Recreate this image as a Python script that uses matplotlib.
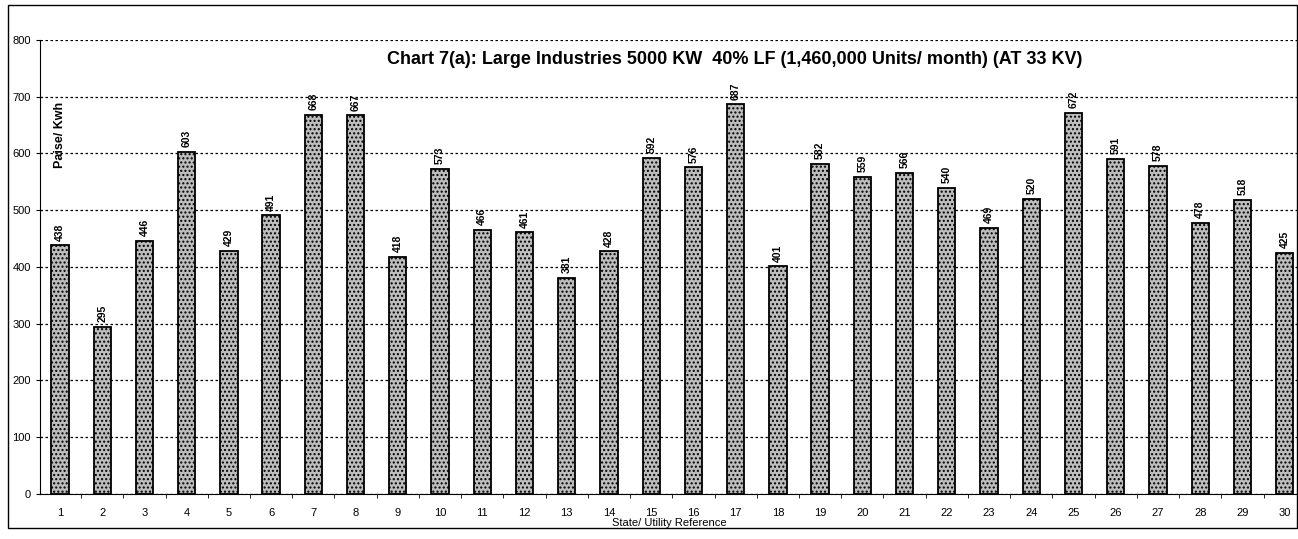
import numpy as np
import matplotlib
matplotlib.use("Agg")
from matplotlib import pyplot as plt
from matplotlib.patches import Rectangle

plt.rcParams["font.family"] = ["Liberation Sans", "DejaVu Sans"]
plt.rcParams["hatch.color"] = "#8a8a8a"

refs = list(range(1, 31))
values = [438, 295, 446, 603, 429, 491, 668, 667, 418, 573,
          466, 461, 381, 428, 592, 576, 687, 401, 582, 559,
          566, 540, 469, 520, 672, 591, 578, 478, 518, 425]
labels = [str(v) for v in values]
yticks = list(range(0, 801, 100))

fig = plt.figure(figsize=(12.98, 5.39), dpi=100)
ax = fig.add_axes([0.0308, 0.0835, 0.969, 0.8423])

ax.bar(refs, values, width=0.41, color="#bdbdbd", edgecolor="black",
       linewidth=1.3, hatch="....", zorder=3)

for x, v, t in zip(refs, values, labels):
    ax.text(x, v + 8, t, rotation=90, ha="center", va="bottom",
            fontsize=7.5, fontweight="bold", zorder=4)

ax.set_xlim(0.526, 30.31)
ax.set_ylim(0, 800)
ax.set_yticks(yticks)
ax.set_xticks(refs)
ax.set_xticks(np.arange(1.5, 30.5, 1.0), minor=True)
ax.tick_params(axis="x", which="major", length=0, labelsize=8, pad=10)
ax.tick_params(axis="x", which="minor", length=3, direction="out")
ax.tick_params(axis="y", labelsize=8, length=3, direction="out")
ax.yaxis.grid(True, linestyle=(0, (2, 2)), color="black", linewidth=0.9, zorder=0)

for s in ("top", "right"):
    ax.spines[s].set_visible(False)

ax.set_xlabel("State/ Utility Reference", fontsize=8, labelpad=0)
ax.text(0.016, 0.79, "Paise/ Kwh", transform=ax.transAxes, rotation=90,
        ha="center", va="center", fontsize=9, fontweight="bold")
ax.text(0.552, 0.975, "Chart 7(a): Large Industries 5000 KW  40% LF (1,460,000 Units/ month) (AT 33 KV)",
        transform=ax.transAxes, ha="center", va="top", fontsize=13,
        fontweight="bold", zorder=5)

fig.patches.append(Rectangle((8 / 1298, 1 - 528 / 539), 1 - 9 / 1298, (528 - 5) / 539,
                             transform=fig.transFigure, fill=False,
                             edgecolor="black", linewidth=1.0))

fig.savefig("out.png", dpi=100)
